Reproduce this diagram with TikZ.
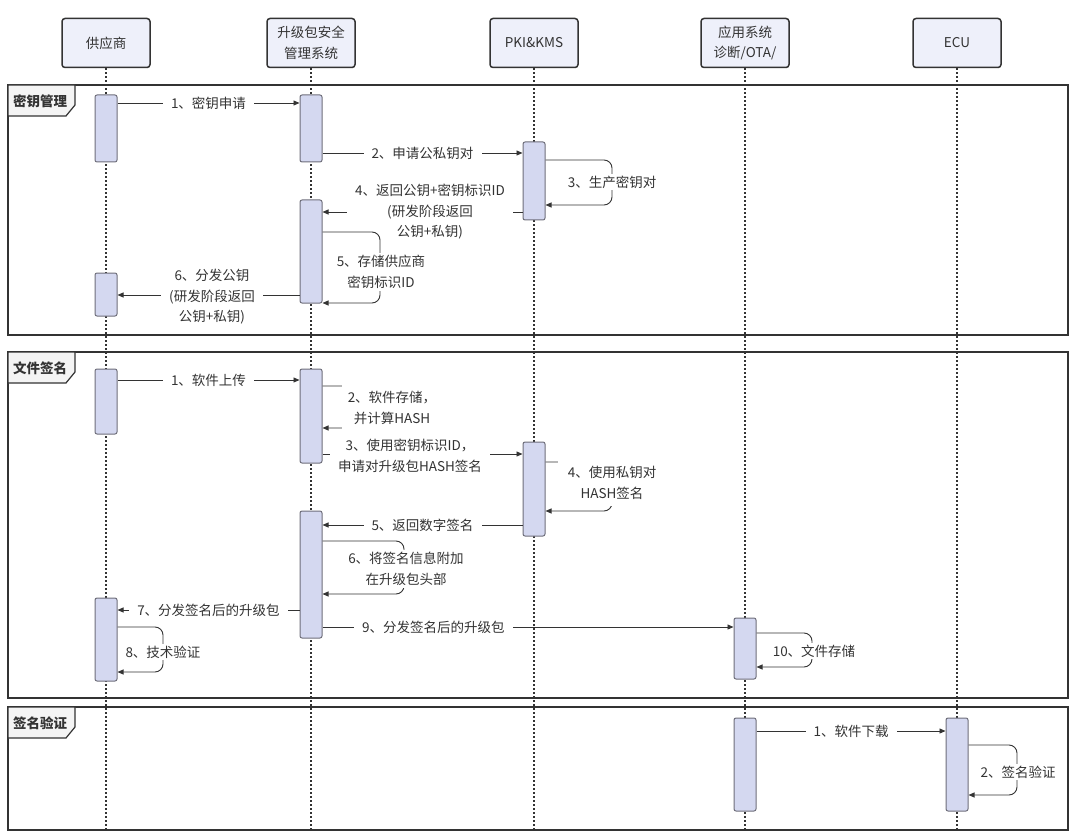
\documentclass[tikz,border=0pt]{standalone}
\usepackage{fontspec}
\setmainfont{Noto Sans CJK SC}
\usetikzlibrary{arrows.meta}
\definecolor{headfill}{HTML}{EEF0FA}
\definecolor{actfill}{HTML}{D4D8F0}
\definecolor{actline}{HTML}{6E6E7A}
\definecolor{ink}{HTML}{333333}
\definecolor{tabfill}{HTML}{F4F4F4}
\begin{document}
\begin{tikzpicture}[x=1pt,y=-1pt,
  every node/.style={font=\fontsize{13.5pt}{20.5pt}\selectfont, text=ink},
  head/.style={draw=ink, line width=1.5pt, rounded corners=3pt, fill=headfill, minimum width=88pt, minimum height=49pt, align=center, inner sep=2pt},
  act/.style={draw=actline, line width=1pt, rounded corners=2pt, fill=actfill, minimum width=22pt, inner sep=0pt},
  life/.style={ink, line width=1.4pt, dash pattern=on 1.5pt off 2.5pt},
  frame/.style={draw=ink, line width=1.6pt},
  tab/.style={draw=ink, line width=1.2pt, fill=tabfill},
  tabtext/.style={font=\fontsize{13.5pt}{20.5pt}\selectfont\bfseries},
  msg/.style={draw=ink, line width=0.9pt, -{Triangle[length=6pt,width=5pt]}},
  lbl/.style={fill=white, inner xsep=8pt, inner ysep=2pt, align=center},
  selfm/.style={msg, rounded corners=8pt},
]
\useasboundingbox (0,0) rectangle (1080,840);

% heads
\node[head] (h1) at (106,43) {供应商};
\node[head] (h2) at (311,43) {升级包安全\\管理系统};
\node[head] (h3) at (534,43) {PKI\&KMS};
\node[head] (h4) at (745,43) {应用系统\\诊断/OTA/};
\node[head] (h5) at (957,43) {ECU};

% lifelines
\coordinate (b1) at (106,832);
\coordinate (b2) at (311,832);
\coordinate (b3) at (534,832);
\coordinate (b4) at (745,832);
\coordinate (b5) at (957,832);
\draw[life] (h1.south) -- (b1);
\draw[life] (h2.south) -- (b2);
\draw[life] (h3.south) -- (b3);
\draw[life] (h4.south) -- (b4);
\draw[life] (h5.south) -- (b5);

% frames
\draw[frame] (8,85) rectangle (1068,335);
\draw[frame] (8,352) rectangle (1068,698);
\draw[frame] (8,707) rectangle (1068,830);
\draw[tab] (8,85) -- (75,85) -- (75,105) -- (66,116) -- (8,116) -- cycle;
\draw[tab] (8,352) -- (75,352) -- (75,372) -- (66,383) -- (8,383) -- cycle;
\draw[tab] (8,707) -- (75,707) -- (75,727) -- (66,738) -- (8,738) -- cycle;
\node[tabtext] (t1) at (40,101) {密钥管理};
\node[tabtext] (t2) at (40,368) {文件签名};
\node[tabtext] (t3) at (40,723) {签名验证};

% activations
\node[act, minimum height=67pt] (s1) at (106,128.5) {};
\node[act, minimum height=67pt] (m1) at (311,128.5) {};
\node[act, minimum height=78pt] (p1) at (534,181) {};
\node[act, minimum height=103pt] (m2) at (311,251.5) {};
\node[act, minimum height=43pt] (s2) at (106,294.5) {};
\node[act, minimum height=65pt] (s3) at (106,401.5) {};
\node[act, minimum height=94pt] (m3) at (311,416) {};
\node[act, minimum height=94pt] (p2) at (534,489) {};
\node[act, minimum height=127pt] (m4) at (311,574.5) {};
\node[act, minimum height=83pt] (s4) at (106,639.5) {};
\node[act, minimum height=61pt] (a1) at (745,648.5) {};
\node[act, minimum height=93pt] (a2) at (745,764.5) {};
\node[act, minimum height=93pt] (e1) at (957,764.5) {};

% frame 1
\draw[msg] (s1.east |- 0,103) -- node[lbl]{1、密钥申请} (m1.west |- 0,103);
\draw[msg] (m1.east |- 0,153) -- node[lbl]{2、申请公私钥对} (p1.west |- 0,153);
\draw[selfm] (p1.east |- 0,160) -| (612,182) |- (p1.east |- 0,205);
\node[lbl, inner xsep=3pt] (l3) at (612,182) {3、生产密钥对};
\draw[msg] (p1.west |- 0,212) -- (m2.east |- 0,212);
\node[lbl] (l4) at (430,212) {4、返回公钥+密钥标识ID\\(研发阶段返回\\公钥+私钥)};
\draw[selfm] (m2.east |- 0,232) -| (380,268) |- (m2.east |- 0,303);
\node[lbl, inner xsep=2pt] (l5) at (381,272) {5、存储供应商\\密钥标识ID};
\draw[msg] (m2.west |- 0,295) -- (s2.east |- 0,295);
\node[lbl] (l6) at (212,297) {6、分发公钥\\(研发阶段返回\\公钥+私钥)};

% frame 2
\draw[msg] (s3.east |- 0,380) -- node[lbl]{1、软件上传} (m3.west |- 0,380);
\draw[selfm] (m3.east |- 0,386) -| (395,407) |- (m3.east |- 0,428);
\node[lbl, inner xsep=6pt, inner ysep=6pt] (f2) at (392,408) {2、软件存储，\\并计算HASH};
\draw[msg] (m3.east |- 0,454) -- (p2.west |- 0,454);
\node[lbl] (f3) at (410,456) {3、使用密钥标识ID，\\申请对升级包HASH签名};
\draw[selfm] (p2.east |- 0,462) -| (612,486) |- (p2.east |- 0,511);
\node[lbl, inner xsep=10pt, inner ysep=7pt] (f4) at (612,483) {4、使用私钥对\\HASH签名};
\draw[msg] (p2.west |- 0,525) -- node[lbl]{5、返回数字签名} (m4.east |- 0,525);
\draw[selfm] (m4.east |- 0,541) -| (404,568) |- (m4.east |- 0,594);
\node[lbl, inner xsep=4pt] (f6) at (406,569) {6、将签名信息附加\\在升级包头部};
\draw[msg] (m4.west |- 0,610) -- node[lbl]{7、分发签名后的升级包} (s4.east |- 0,610);
\draw[selfm] (s4.east |- 0,627) -| (163,650) |- (s4.east |- 0,672);
\node[lbl, inner xsep=3pt] (f8) at (163,652) {8、技术验证};
\draw[msg] (m4.east |- 0,627) -- node[lbl, pos=0.27]{9、分发签名后的升级包} (a1.west |- 0,627);
\draw[selfm] (a1.east |- 0,633) -| (812,650) |- (a1.east |- 0,667);
\node[lbl, inner xsep=3pt] (f10) at (814,651) {10、文件存储};

% frame 3
\draw[msg] (a2.east |- 0,731) -- node[lbl]{1、软件下载} (e1.west |- 0,731);
\draw[selfm] (e1.east |- 0,745) -| (1017,770) |- (e1.east |- 0,795);
\node[lbl, inner xsep=3pt] (g2) at (1018,772) {2、签名验证};
\end{tikzpicture}
\end{document}
